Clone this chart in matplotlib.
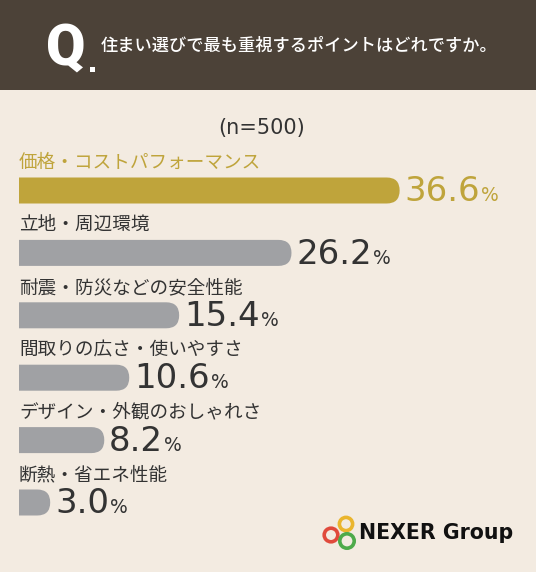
import matplotlib
matplotlib.use("Agg")
import matplotlib.pyplot as plt
from matplotlib.patches import FancyBboxPatch, Rectangle, Circle

plt.rcParams['font.family'] = ['Noto Sans CJK JP', 'DejaVu Sans']

# data
labels = ["価格・コストパフォーマンス", "立地・周辺環境", "耐震・防災などの安全性能",
          "間取りの広さ・使いやすさ", "デザイン・外観のおしゃれさ", "断熱・省エネ性能"]
values = [36.6, 26.2, 15.4, 10.6, 8.2, 3.0]
title = "住まい選びで最も重視するポイントはどれですか。"
sample = "(n=500)"

bg = "#f3ebe1"
header = "#4c4238"
gold = "#bfa43b"
gray = "#a0a1a4"
dark = "#333333"

W, H = 536, 572
fig = plt.figure(figsize=(W / 100, H / 100), dpi=100, facecolor=bg)

# header band
fig.patches.append(Rectangle((0, 1 - 90 / H), 1, 90 / H, transform=fig.transFigure,
                             facecolor=header, edgecolor="none", zorder=0))
fig.text(46 / W, 1 - 65 / H, "Q", color="white", fontsize=41, fontweight="black",
         va="baseline", ha="left", family=["Roboto"])
fig.patches.append(Rectangle((90 / W, 1 - 72 / H), 5 / W, 5 / H, transform=fig.transFigure,
                             facecolor="white", edgecolor="none"))
fig.text(101 / W, 1 - 46 / H, title, color="white", fontsize=12.4, fontweight="medium",
         va="center", ha="left")

fig.text(262 / W, 1 - 128 / H, sample, color=dark, fontsize=15, va="center", ha="center",
         family=["DejaVu Sans"])

# bars
pitch = 62.4
top_px = 190.5 - pitch / 2
ax_h = pitch * 6
ax = fig.add_axes([19 / W, (H - top_px - ax_h) / H, 520 / W, ax_h / H])
ax.set_xlim(0, 50)
ax.set_ylim(5.5, -0.5)
ax.axis("off")

bar_h = 26 / pitch
px_x = 520 / 50.0  # pixels per x unit
px_y = pitch        # pixels per y unit
aspect = px_x / px_y
r = (26 / 2) / px_x

renderer = fig.canvas.get_renderer()
for i, (lab, v) in enumerate(zip(labels, values)):
    c = gold if i == 0 else gray
    tc = gold if i == 0 else dark
    # rounded box that starts left of 0; the axes clip squares off the left end
    box = FancyBboxPatch((-2 * r, i - bar_h / 2), v + 2 * r, bar_h,
                         boxstyle="round,pad=0,rounding_size=%f" % r,
                         mutation_aspect=aspect, facecolor=c, edgecolor="none")
    ax.add_patch(box)
    ax.text(0, i - 0.44, lab, color=tc, fontsize=13.4, va="center", ha="left")
    t = ax.text(v + 0.45, i + 0.17, "%.1f" % v, color=tc, fontsize=24.5,
                va="baseline", ha="left", family=["DejaVu Sans"])
    bb = t.get_window_extent(renderer)
    inv = ax.transData.inverted()
    x_end = inv.transform((bb.x1, bb.y0))[0]
    ax.text(x_end + 0.1, i + 0.17, "%", color=tc, fontsize=13.5,
            va="baseline", ha="left", family=["DejaVu Sans"])

# logo
ring_specs = [(346, 524, 6.6, "#eab52d"), (331, 535, 6.8, "#e04a3c"), (347, 541, 7.2, "#4daa4a")]
for cx, cy, rr, col in ring_specs:
    fig.patches.append(Circle((cx / 100, (H - cy) / 100), rr / 100,
                              transform=fig.dpi_scale_trans,
                              facecolor="none", edgecolor=col, linewidth=2.6))
fig.text(359 / W, 1 - 533 / H, "NEXER Group", color="#111111", fontsize=14.8,
         fontweight="bold", va="center", ha="left", family=["DejaVu Sans"])

fig.savefig("out.png", dpi=100, facecolor=bg)
